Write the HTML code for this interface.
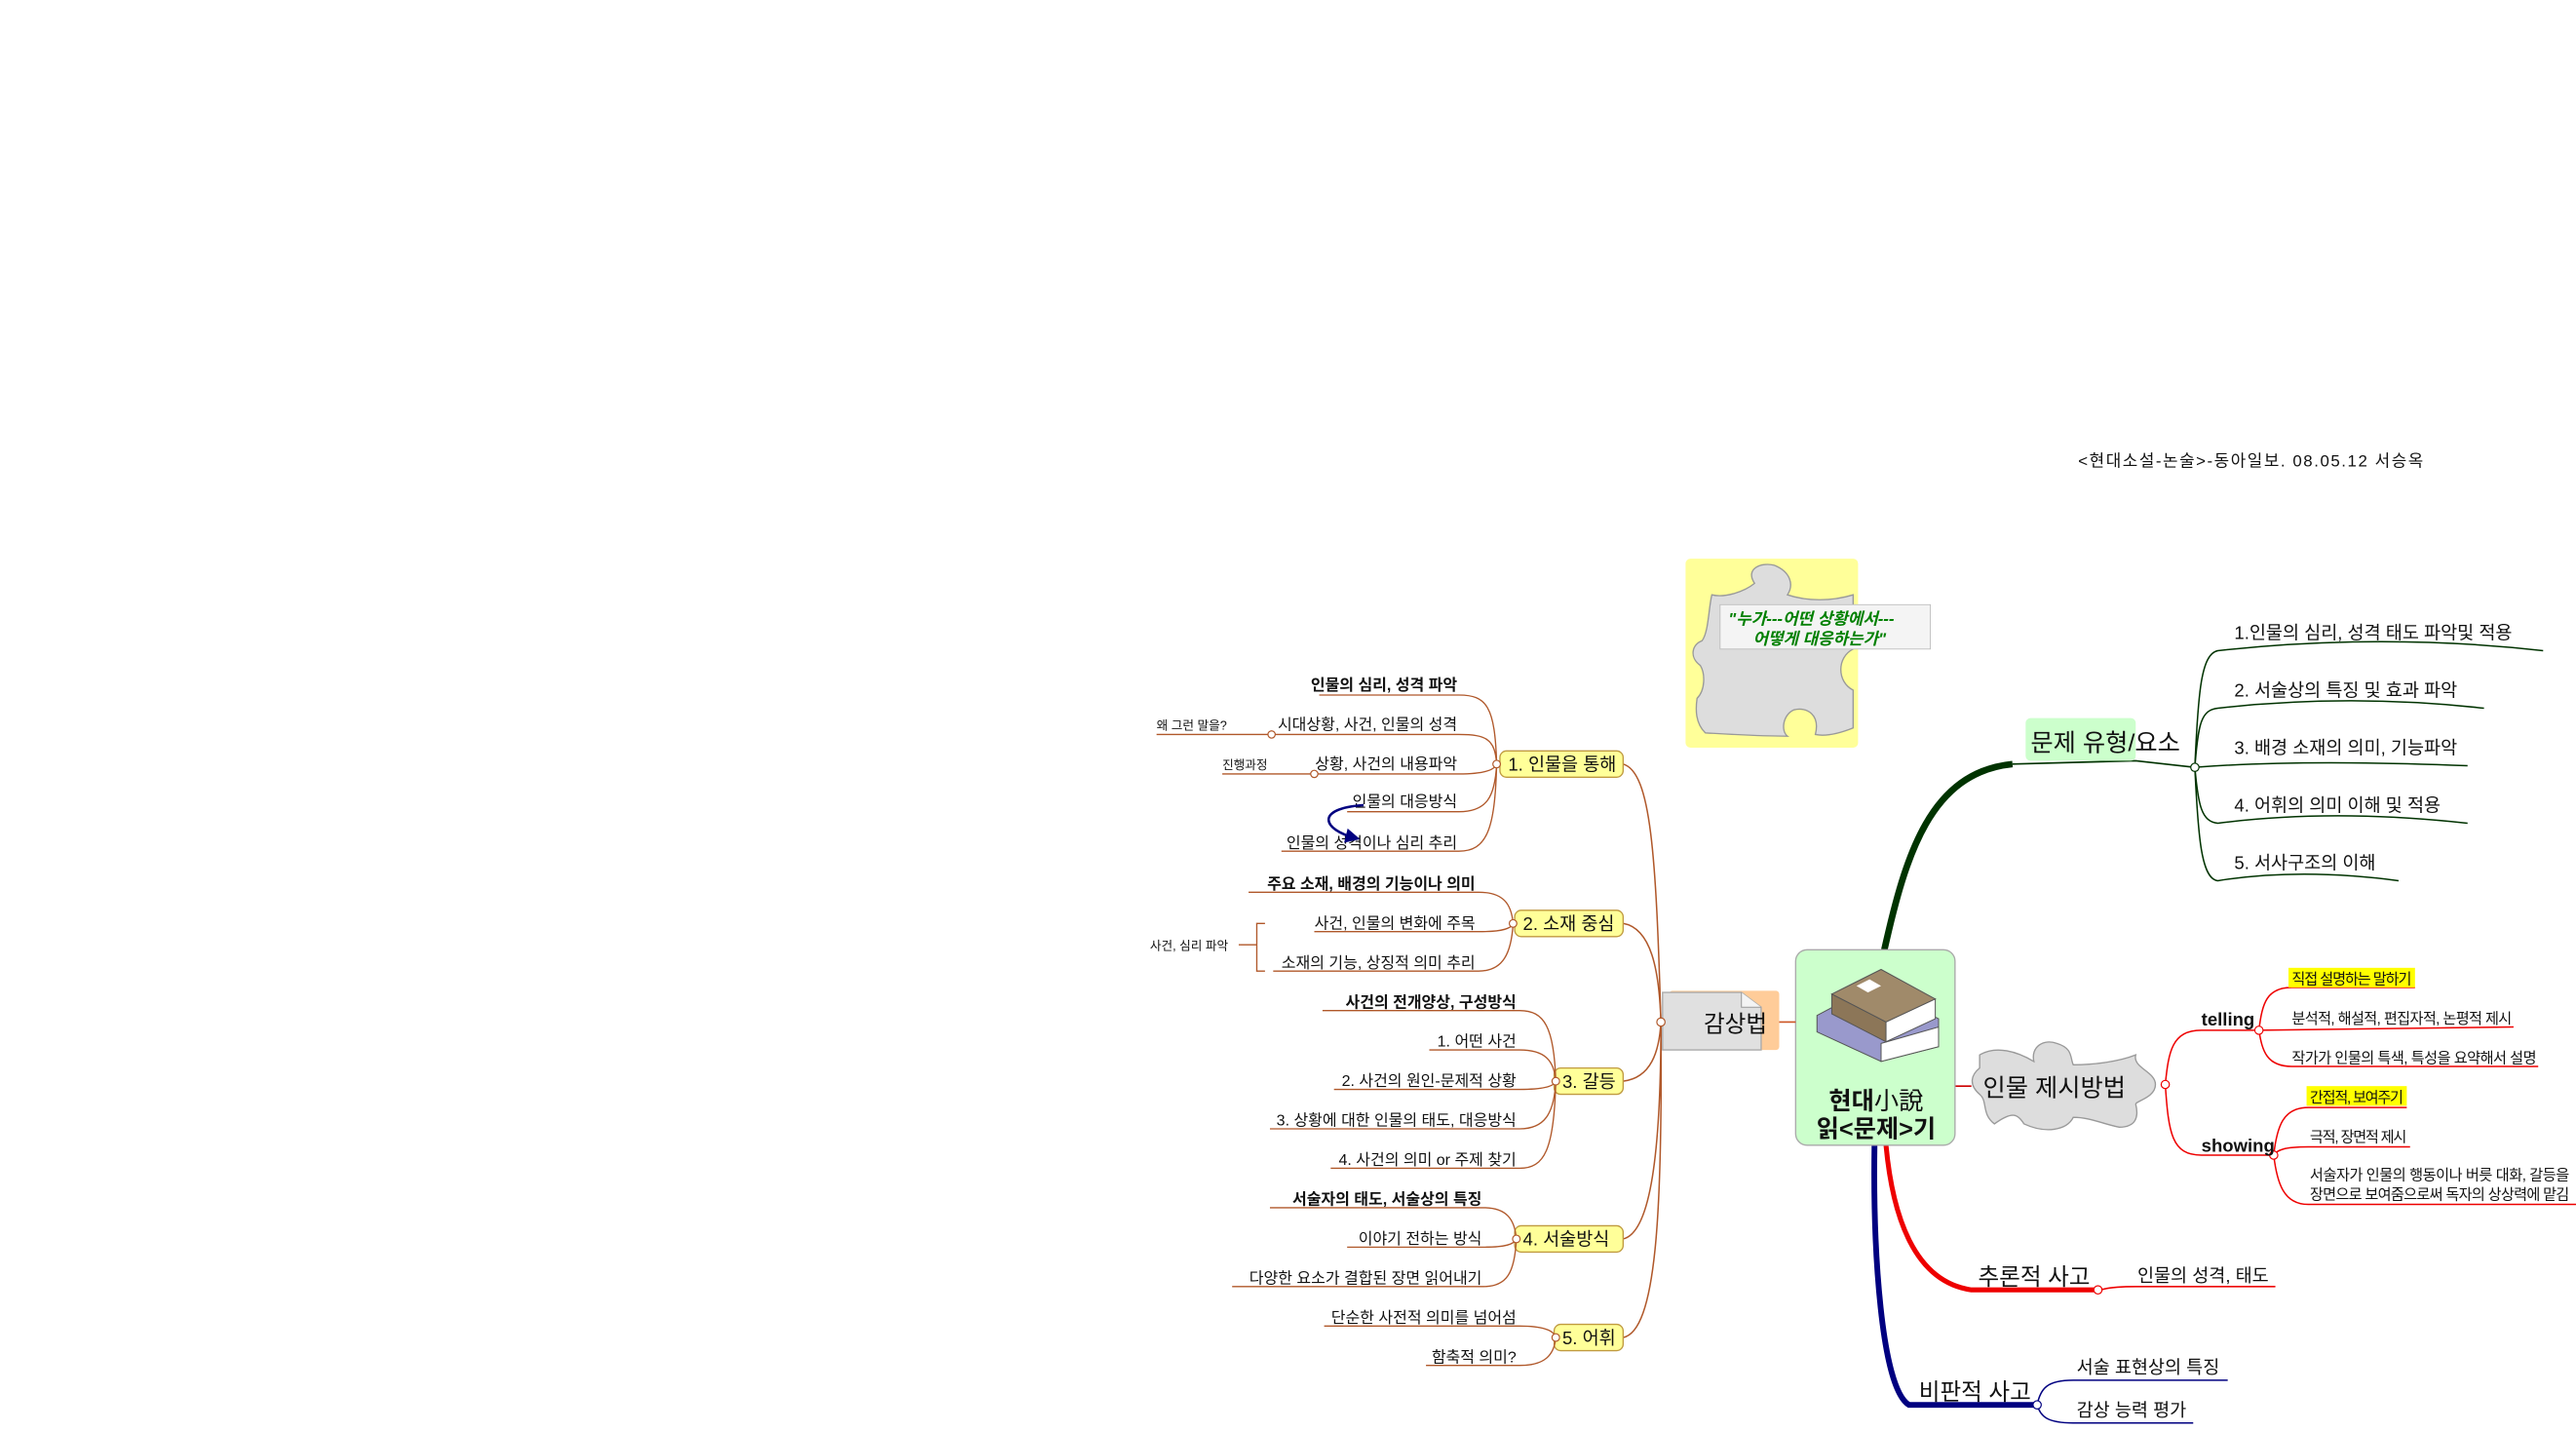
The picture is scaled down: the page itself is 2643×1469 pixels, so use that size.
<!DOCTYPE html>
<html><head><meta charset="utf-8">
<style>
html,body{margin:0;padding:0;background:#fff;}
svg{display:block;}
text{font-family:"Liberation Sans","Noto Sans CJK KR",sans-serif;fill:#111;}
</style></head>
<body>
<svg width="2643" height="1469" viewBox="0 0 1568 871.5" xmlns="http://www.w3.org/2000/svg">
<defs>
<marker id="ah" markerWidth="6" markerHeight="6" refX="4" refY="3" orient="auto"><path d="M0,0 L6,3 L0,6 z" fill="#000080"/></marker>
</defs>

<text x="1265" y="284" font-size="10" textLength="210">&lt;현대소설-논술&gt;-동아일보. 08.05.12 서승옥</text>

<!-- puzzle note -->
<rect x="1026" y="340" width="105" height="115" rx="3" fill="#ffff99"/>
<path d="M1042,362 C1050,364 1062,360 1068,355 C1062,346 1072,342 1080,344 C1090,348 1092,356 1088,362 C1100,366 1115,366 1128,362 L1128,395 C1118,400 1118,415 1128,420 L1128,443 C1118,447 1110,448 1105,447 C1108,435 1100,430 1092,432 C1085,435 1084,445 1088,448 C1070,448 1055,447 1038,446 C1032,440 1032,432 1033,425 C1038,420 1038,410 1035,405 C1028,400 1030,392 1036,390 C1040,385 1040,370 1042,362 Z" fill="#dddddd" stroke="#999" stroke-width="0.8"/>
<rect x="1047" y="368" width="128" height="27" fill="#f4f4f4" stroke="#bbb" stroke-width="0.5"/>
<text x="1052" y="380" font-size="10" font-weight="bold" style="fill:#008000" font-style="italic">"누가---어떤 상황에서---</text>
<text x="1067" y="392" font-size="10" font-weight="bold" style="fill:#008000" font-style="italic">어떻게 대응하는가"</text>

<!-- main branches -->
<path d="M1147,578 C1160,520 1175,470 1225,465" fill="none" stroke="#003300" stroke-width="4"/>
<path d="M1225,465 L1300,463 L1336,467" fill="none" stroke="#003300" stroke-width="1"/>
<path d="M1148,697 C1152,740 1165,780 1200,785 L1277,785" fill="none" stroke="#ee0000" stroke-width="3"/>
<path d="M1200,785 L1277,785" fill="none" stroke="#ee0000" stroke-width="1"/>
<path d="M1141,697 C1140,760 1145,845 1162,855 L1240,855" fill="none" stroke="#000080" stroke-width="3.5"/>
<path d="M1162,855 L1240,855" fill="none" stroke="#000080" stroke-width="1"/>

<!-- 문제 유형 node -->
<rect x="1233" y="437" width="67" height="26" rx="3" fill="#ccffcc"/>
<text x="1236" y="457" font-size="15">문제 유형/요소</text>
<g fill="none" stroke="#003300" stroke-width="0.9">
<path d="M1336,467 C1338,420 1340,398 1350,396 Q1450,385 1548,396"/>
<path d="M1336,467 C1338,440 1340,432 1350,431 Q1430,422 1512,431"/>
<path d="M1336,467 Q1400,462 1502,466"/>
<path d="M1336,467 C1338,490 1340,500 1350,501 Q1420,492 1502,501"/>
<path d="M1336,467 C1338,510 1340,535 1350,536 Q1400,528 1460,536"/>
</g>
<circle cx="1336" cy="467" r="2.5" fill="#fff" stroke="#003300" stroke-width="0.7"/>
<g font-size="11">
<text x="1360" y="389">1.인물의 심리, 성격 태도 파악및 적용</text>
<text x="1360" y="424">2. 서술상의 특징 및 효과 파악</text>
<text x="1360" y="459">3. 배경 소재의 의미, 기능파악</text>
<text x="1360" y="494">4. 어휘의 의미 이해 및 적용</text>
<text x="1360" y="529">5. 서사구조의 이해</text>
</g>

<!-- 인물 제시방법 -->
<line x1="1190" y1="661" x2="1200" y2="661" stroke="#cc0000" stroke-width="1"/>
<path d="M1205,642 C1215,636 1228,640 1238,646 C1236,637 1244,632 1252,635 C1262,638 1260,644 1262,648 C1275,648 1290,646 1300,642 C1298,650 1312,652 1312,660 C1312,668 1300,670 1300,672 C1302,680 1300,686 1290,686 C1280,684 1272,680 1262,680 C1258,688 1245,690 1232,684 C1228,678 1225,676 1214,684 C1206,678 1210,670 1205,666 C1198,660 1200,654 1205,650 Z" fill="#dddddd" stroke="#999" stroke-width="0.8"/>
<text x="1207" y="667" font-size="15">인물 제시방법</text>
<g fill="none" stroke="#ee0000" stroke-width="0.9">
<path d="M1318,660 C1320,640 1322,627 1340,627 L1375,627"/>
<path d="M1318,660 C1320,690 1322,703 1340,703 L1384,703"/>
<path d="M1375,627 C1377,610 1380,601 1395,601 L1470,601"/>
<path d="M1375,627 L1530,625"/>
<path d="M1375,627 C1377,640 1380,649 1395,649 L1545,649"/>
<path d="M1384,703 C1386,685 1390,674 1405,674 L1465,674"/>
<path d="M1384,703 C1386,700 1390,698 1405,698 L1467,698"/>
<path d="M1384,703 C1386,720 1390,733 1405,733 L1568,733"/>
</g>
<circle cx="1318" cy="660" r="2.5" fill="#fff" stroke="#ee0000" stroke-width="0.7"/>
<circle cx="1375" cy="627" r="2.5" fill="#fff" stroke="#ee0000" stroke-width="0.7"/>
<circle cx="1384" cy="703" r="2.5" fill="#fff" stroke="#ee0000" stroke-width="0.7"/>
<text x="1340" y="624" font-size="11" font-weight="bold">telling</text>
<text x="1340" y="701" font-size="11" font-weight="bold">showing</text>
<rect x="1393" y="589" width="77" height="12" fill="#ffff00"/>
<rect x="1404" y="661" width="61" height="12" fill="#ffff00"/>
<g font-size="9">
<text x="1395" y="599" textLength="73">직접 설명하는 말하기</text>
<text x="1395" y="623" textLength="134">분석적, 해설적, 편집자적, 논평적 제시</text>
<text x="1395" y="647" textLength="149">작가가 인물의 특색, 특성을 요약해서 설명</text>
<text x="1406" y="671" textLength="57">간접적, 보여주기</text>
<text x="1406" y="695" textLength="59">극적, 장면적 제시</text>
<text x="1406" y="718" textLength="158">서술자가 인물의 행동이나 버릇 대화, 갈등을</text>
<text x="1406" y="730" textLength="158">장면으로 보여줌으로써 독자의 상상력에 맡김</text>
</g>

<!-- 추론 / 비판 -->
<text x="1204" y="782" font-size="14">추론적 사고</text>
<circle cx="1277" cy="785" r="2.5" fill="#fff" stroke="#ee0000" stroke-width="0.7"/>
<path d="M1279,785 Q1285,783 1300,783 L1385,783" fill="none" stroke="#ee0000" stroke-width="0.9"/>
<text x="1301" y="780" font-size="11">인물의 성격, 태도</text>
<text x="1168" y="852" font-size="14">비판적 사고</text>
<g fill="none" stroke="#000080" stroke-width="0.9">
<path d="M1240,855 C1242,845 1246,840 1262,840 L1356,840"/>
<path d="M1240,855 C1242,862 1246,866 1262,866 L1335,866"/>
</g>
<circle cx="1240" cy="855" r="2.5" fill="#fff" stroke="#000080" stroke-width="0.7"/>
<text x="1264" y="836" font-size="11">서술 표현상의 특징</text>
<text x="1264" y="862" font-size="11">감상 능력 평가</text>

<!-- center node -->
<rect x="1093" y="578" width="97" height="119" rx="7" fill="#ccffcc" stroke="#aaa" stroke-width="0.8"/>
<g>
<path d="M1106,618 L1140,600 L1180,620 L1180,637 L1145,646 L1106,628 Z" fill="#9999cc" stroke="#555" stroke-width="0.6"/>
<path d="M1145,635 L1180,625 L1180,637 L1145,646 Z" fill="#fff" stroke="#555" stroke-width="0.6"/>
<path d="M1115,605 L1145,590 L1178,608 L1148,622 Z" fill="#a08a6a" stroke="#555" stroke-width="0.6"/>
<path d="M1115,605 L1148,622 L1148,634 L1115,617 Z" fill="#8c7658" stroke="#555" stroke-width="0.6"/>
<path d="M1148,622 L1178,608 L1178,620 L1148,634 Z" fill="#fff" stroke="#555" stroke-width="0.6"/>
<path d="M1130,600 L1138,596 L1145,600 L1137,604 Z" fill="#fff"/>
</g>
<text x="1142" y="675" font-size="15" font-weight="bold" text-anchor="middle">현대<tspan font-weight="normal">小說</tspan></text>
<text x="1142" y="692" font-size="15" font-weight="bold" text-anchor="middle">읽&lt;문제&gt;기</text>

<!-- 감상법 -->
<line x1="1083" y1="622" x2="1093" y2="622" stroke="#cc5522" stroke-width="1"/>
<rect x="1016" y="603" width="67" height="36" rx="2" fill="#ffcc99"/>
<path d="M1012,604 L1060,604 L1072,613 L1072,639 L1012,639 Z" fill="#e0e0e0" stroke="#aaa" stroke-width="0.8"/>
<path d="M1060,604 L1060,613 L1072,613" fill="#f4f4f4" stroke="#999" stroke-width="0.6"/>
<text x="1037" y="628" font-size="14">감상법</text>

<g fill="none" stroke="#b0582a" stroke-width="0.9">
<path d="M1011,622 C1008,520 1005,470 988,465"/>
<path d="M1011,622 C1010,590 1005,565 988,562"/>
<path d="M1011,622 C1010,640 1005,656 988,658"/>
<path d="M1011,622 C1011,700 1005,750 988,754"/>
<path d="M1011,622 C1012,740 1008,810 988,814"/>
</g>
<circle cx="1011" cy="622" r="2.5" fill="#fff" stroke="#b0582a" stroke-width="0.7"/>

<g fill="#ffff99" stroke="#c09a40" stroke-width="0.8">
<rect x="913" y="457" width="75" height="16" rx="4"/>
<rect x="922" y="554" width="66" height="16" rx="4"/>
<rect x="946" y="650" width="42" height="16" rx="4"/>
<rect x="922" y="746" width="66" height="16" rx="4"/>
<rect x="946" y="806" width="42" height="16" rx="4"/>
</g>
<g font-size="11">
<text x="918" y="469">1. 인물을 통해</text>
<text x="927" y="566">2. 소재 중심</text>
<text x="951" y="662">3. 갈등</text>
<text x="927" y="758">4. 서술방식</text>
<text x="951" y="818">5. 어휘</text>
</g>

<!-- sub-branches -->
<g fill="none" stroke="#b0582a" stroke-width="0.8">
<path d="M911,465 C910,430 905,423 888,423 L803,423"/>
<path d="M911,465 C910,450 905,447 888,447 L704,447"/>
<path d="M911,465 C910,468 905,471 888,471 L744,471"/>
<path d="M911,465 C910,485 905,494 888,494 L820,494"/>
<path d="M911,465 C910,505 905,518 888,518 L780,518"/>
<path d="M921,562 C920,550 915,543 900,543 L760,543"/>
<path d="M921,562 C920,565 915,567 900,567 L800,567"/>
<path d="M921,562 C920,580 915,591 900,591 L775,591"/>
<path d="M754,575 L765,575 M770,562 L765,562 L765,591 L770,591"/>
<path d="M947,658 C946,625 940,615 925,615 L805,615"/>
<path d="M947,658 C946,645 940,639 925,639 L870,639"/>
<path d="M947,658 C946,661 940,663 925,663 L812,663"/>
<path d="M947,658 C946,678 940,687 925,687 L773,687"/>
<path d="M947,658 C946,700 940,711 925,711 L810,711"/>
<path d="M923,754 C922,742 917,735 903,735 L773,735"/>
<path d="M923,754 C922,757 917,759 903,759 L820,759"/>
<path d="M923,754 C922,775 917,783 903,783 L750,783"/>
<path d="M947,814 C946,810 940,807 925,807 L806,807"/>
<path d="M947,814 C946,825 940,831 925,831 L868,831"/>
</g>
<g fill="#fff" stroke="#b0582a" stroke-width="0.7">
<circle cx="911" cy="465" r="2.3"/><circle cx="921" cy="562" r="2.3"/><circle cx="947" cy="658" r="2.3"/><circle cx="923" cy="754" r="2.3"/><circle cx="947" cy="814" r="2.3"/>
<circle cx="774" cy="447" r="2.2"/><circle cx="800" cy="471" r="2.2"/>
</g>

<g font-size="9.5" text-anchor="end">
<text x="887" y="420" font-weight="bold">인물의 심리, 성격 파악</text>
<text x="887" y="444">시대상황, 사건, 인물의 성격</text>
<text x="887" y="468">상황, 사건의 내용파악</text>
<text x="887" y="491">인물의 대응방식</text>
<text x="887" y="516">인물의 성격이나 심리 추리</text>
<text x="898" y="541" font-weight="bold">주요 소재, 배경의 기능이나 의미</text>
<text x="898" y="565">사건, 인물의 변화에 주목</text>
<text x="898" y="589">소재의 기능, 상징적 의미 추리</text>
<text x="923" y="613" font-weight="bold">사건의 전개양상, 구성방식</text>
<text x="923" y="637">1. 어떤 사건</text>
<text x="923" y="661">2. 사건의 원인-문제적 상황</text>
<text x="923" y="685">3. 상황에 대한 인물의 태도, 대응방식</text>
<text x="923" y="709">4. 사건의 의미 or 주제 찾기</text>
<text x="902" y="733" font-weight="bold">서술자의 태도, 서술상의 특징</text>
<text x="902" y="757">이야기 전하는 방식</text>
<text x="902" y="781">다양한 요소가 결합된 장면 읽어내기</text>
<text x="923" y="805">단순한 사전적 의미를 넘어섬</text>
<text x="923" y="829">함축적 의미?</text>
</g>
<g font-size="7.5">
<text x="704" y="444">왜 그런 말을?</text>
<text x="744" y="468">진행과정</text>
<text x="700" y="578">사건, 심리 파악</text>
</g>

<path d="M830,490 C800,492 805,505 825,510" fill="none" stroke="#000080" stroke-width="1.5" marker-end="url(#ah)"/>
</svg>
</body></html>
